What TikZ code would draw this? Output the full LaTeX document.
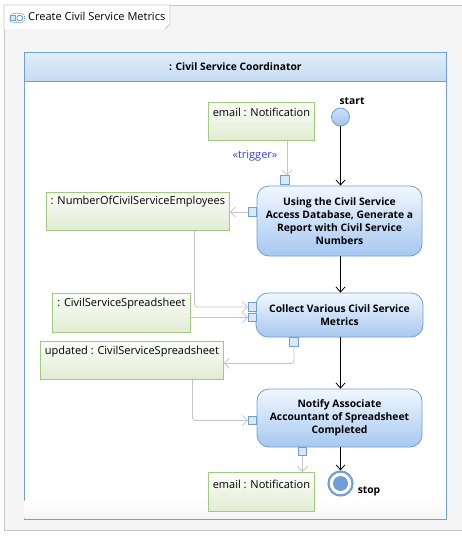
\documentclass[tikz,border=0pt]{standalone}
\usepackage{fontspec}
\setmainfont{Open Sans}
\usetikzlibrary{arrows.meta}
\definecolor{laneb}{RGB}{111,159,216}
\definecolor{headtop}{RGB}{226,238,251}
\definecolor{headbot}{RGB}{196,218,241}
\definecolor{acttop}{RGB}{241,247,254}
\definecolor{actbot}{RGB}{166,200,240}
\definecolor{pinfill}{RGB}{218,231,246}
\definecolor{objb}{RGB}{160,202,125}
\definecolor{objtop}{RGB}{251,252,248}
\definecolor{objbot}{RGB}{225,236,211}
\definecolor{edgegray}{RGB}{196,196,196}
\definecolor{trigblue}{RGB}{60,60,255}
\definecolor{framegray}{RGB}{245,245,245}
\definecolor{frameb}{RGB}{200,200,200}
\definecolor{starttop}{RGB}{206,225,247}
\definecolor{startbot}{RGB}{160,196,238}
\begin{document}
\begin{tikzpicture}[x=1pt,y=-1pt,
  base/.style={font=\fontsize{11}{13}\selectfont},
  action/.style={draw=laneb, line width=0.8pt, rounded corners=12pt,
    top color=acttop, bottom color=actbot, align=center, inner sep=0pt,
    font=\fontsize{10.3}{13}\selectfont\bfseries},
  pinbox/.style={draw=laneb, fill=pinfill, line width=0.7pt, minimum size=8.5pt, inner sep=0pt},
  obj/.style={draw=objb, line width=0.8pt, top color=objtop, bottom color=objbot,
    anchor=north west, inner sep=0pt},
  objtext/.style={base, inner sep=0pt},
  objflow/.style={draw=edgegray, line width=0.8pt, -{Straight Barb[length=5pt,width=10pt]}},
  ctrl/.style={draw=black, line width=0.8pt, -{Straight Barb[length=5pt,width=9pt]}},
  lbl/.style={font=\fontsize{10.3}{13}\selectfont\bfseries, inner sep=0pt}
]
\useasboundingbox (0,0) rectangle (461,538);
% outer frame
\fill[white] (0,0) rectangle (461,538);
\filldraw[fill=framegray, draw=frameb, line width=0.8pt] (470,5) -- (4,5) -- (4,530) -- (470,530);
% tab
\fill[white] (4,5) -- (170,5) -- (170,24) -- (165,29) -- (4,29) -- cycle;
\draw[frameb, line width=0.8pt] (4,30) -- (4,5) -- (170,5) -- (170,24) -- (165,29);
% tab icon
\draw[laneb, line width=0.8pt, dash pattern=on 1.2pt off 0.9pt, rounded corners=3pt] (10,13.5) rectangle (24.5,22.5);
\draw[laneb, line width=0.8pt, fill=pinfill] (10,15.5) rectangle (15.5,20.5);
\draw[laneb, line width=0.8pt, rounded corners=1.5pt] (17,15.5) rectangle (22.5,20.5);
\node[base, anchor=west, inner sep=0pt] (title) at (28,16.5) {Create Civil Service Metrics};
% swimlane
\node[draw=laneb, line width=0.8pt, fill=white, minimum width=422pt, minimum height=467pt, anchor=north west, inner sep=0pt] (lane) at (24,52) {};
\shade[top color=white, bottom color=framegray] (24.5,500) rectangle (445.5,518.5);
\node[draw=laneb, line width=0.8pt, top color=headtop, bottom color=headbot, minimum width=422pt, minimum height=29pt, anchor=north west, inner sep=0pt, font=\fontsize{10.3}{13}\selectfont\bfseries] (head) at (24,52) {: Civil Service Coordinator};

% start
\node[circle, draw=laneb, line width=0.8pt, top color=starttop, bottom color=startbot, minimum size=18pt, inner sep=0pt] (start) at (340.5,117) {};
\node[lbl] (startl) at (352,101) {start};

% actions
\node[action, minimum width=165pt, minimum height=70pt] (a1) at (339.5,221)
  {Using the Civil Service\\Access Database, Generate a\\Report with Civil Service\\Numbers};
\node[action, minimum width=167pt, minimum height=44pt] (a2) at (339.5,315)
  {Collect Various Civil Service\\Metrics};
\node[action, minimum width=165pt, minimum height=58pt] (a3) at (339.5,418)
  {Notify Associate\\Accountant of Spreadsheet\\Completed};

% stop
\node[circle, draw=laneb, line width=2.2pt, fill=white, minimum size=24pt, inner sep=0pt] (stop) at (340.5,483.5) {};
\node[circle, fill=laneb, minimum size=15pt, inner sep=0pt] (stopin) at (stop.center) {};
\node[lbl] (stopl) at (369,491) {stop};

% pins
\node[pinbox] (p1t) at (285,180) {};
\node[pinbox] (p1l) at (252.5,212) {};
\node[pinbox] (p2a) at (252.5,307) {};
\node[pinbox] (p2b) at (252.5,317.5) {};
\node[pinbox] (p2o) at (294,342) {};
\node[pinbox] (p3l) at (252.5,420.5) {};
\node[pinbox] (p3o) at (302.5,451.5) {};

% objects
\node[obj, minimum width=106pt, minimum height=38pt,
  label={[objtext, anchor=center, yshift=-10pt]north:{email : Notification}}] (email1) at (208,102) {};
\node[obj, minimum width=183pt, minimum height=38pt,
  label={[objtext, anchor=center, yshift=-10pt]north:{: NumberOfCivilServiceEmployees}}] (num) at (46,192) {};
\node[obj, minimum width=138pt, minimum height=39pt,
  label={[objtext, anchor=center, yshift=-11pt]north:{: CivilServiceSpreadsheet}}] (css) at (52,293) {};
\node[obj, minimum width=183pt, minimum height=38pt,
  label={[objtext, anchor=center, yshift=-11pt]north:{updated : CivilServiceSpreadsheet}}] (upd) at (40,341) {};
\node[obj, minimum width=106pt, minimum height=39pt,
  label={[objtext, anchor=center, yshift=-12pt]north:{email : Notification}}] (email2) at (208,472) {};

% trigger label
\node[base, text=trigblue, inner sep=0pt] (trg) at (255,156) {«trigger»};

% object flows
\draw[objflow] (email1.south -| 287,0) -- (p1t.north -| 287,0);
\draw[objflow] (p1l.west) -- (num.east |- p1l);
\draw[objflow, rounded corners=3pt] ([xshift=56.5pt]num.south) |- (p2a.west);
\draw[objflow] (css.east |- p2b) -- (p2b.west);
\draw[objflow, rounded corners=3pt] (p2o.south) |- ([yshift=-3pt]upd.east);
\draw[objflow, rounded corners=3pt] ([xshift=60.5pt]upd.south) |- (p3l.west);
\draw[objflow] (p3o.south) -- (email2.north -| p3o);

% control flows
\draw[ctrl] (start.south) -- (a1.north -| start.south);
\draw[ctrl] (a1.south -| start) -- (a2.north -| start);
\draw[ctrl] (a2.south -| start) -- (a3.north -| start);
\draw[ctrl] (a3.south -| stop) -- (stop.north);
\end{tikzpicture}
\end{document}
